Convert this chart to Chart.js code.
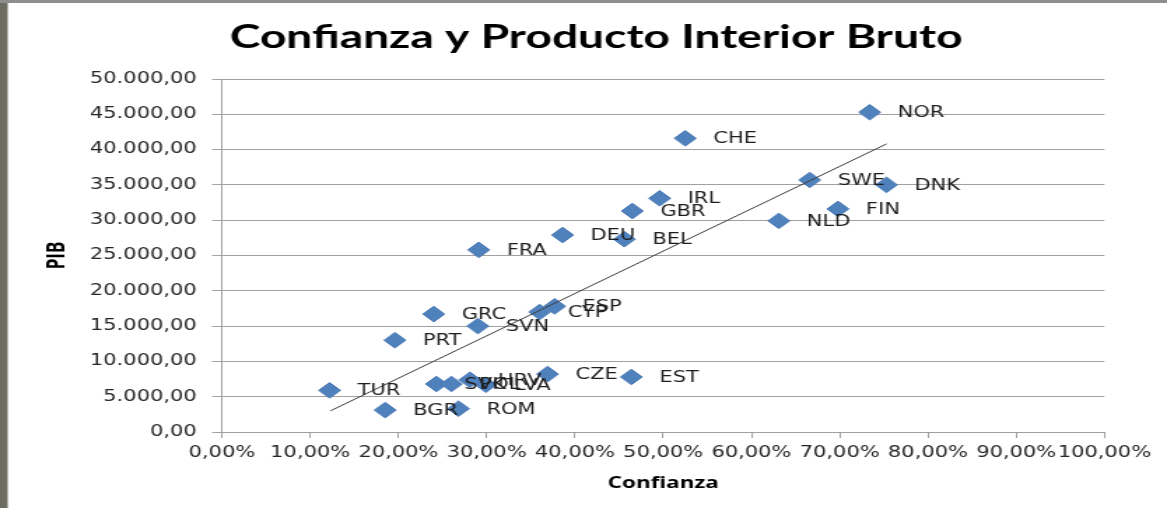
<!DOCTYPE html>
<html lang="es">
<head>
<meta charset="utf-8">
<title>Confianza y Producto Interior Bruto</title>
<script src="https://cdn.jsdelivr.net/npm/chart.js@4.4.1/dist/chart.umd.min.js"></script>
<style>
  html, body { margin: 0; padding: 0; background: #fff; overflow: hidden; }
  #pibChart { display: block; }
</style>
</head>
<body>
<!-- the original picture is stretched sideways, so the canvas is drawn narrow and widened by css -->
<canvas id="pibChart" width="834" height="508" style="width:1167px;height:508px"></canvas>
<script>
// country codes and their values (confianza as a fraction, PIB per capita)
const countries = ["NOR", "CHE", "SWE", "DNK", "FIN", "NLD", "IRL", "GBR", "DEU", "BEL",
  "FRA", "ESP", "CYP", "GRC", "SVN", "PRT", "CZE", "EST", "SVK", "POL", "HRV", "LVA",
  "TUR", "BGR", "ROM"];
const confianza = [0.734, 0.525, 0.666, 0.753, 0.698, 0.631, 0.496, 0.465, 0.386, 0.456,
  0.291, 0.377, 0.360, 0.240, 0.290, 0.196, 0.369, 0.464, 0.243, 0.260, 0.281, 0.299,
  0.122, 0.185, 0.268];
const pib = [45300, 41600, 35700, 35000, 31600, 29900, 33100, 31300, 27900, 27300,
  25800, 17800, 17000, 16700, 15000, 13000, 8200, 7800, 6800, 6800, 7400, 6700,
  5900, 3100, 3300];

// linear trend line, start and end
const trendConfianza = [0.123, 0.753];
const trendPib = [3000, 40800];

const xTickLabels = ["0,00%", "10,00%", "20,00%", "30,00%", "40,00%", "50,00%",
  "60,00%", "70,00%", "80,00%", "90,00%", "100,00%"];
const yTickLabels = ["0,00", "5.000,00", "10.000,00", "15.000,00", "20.000,00", "25.000,00",
  "30.000,00", "35.000,00", "40.000,00", "45.000,00", "50.000,00"];

const points = countries.map((c, i) => ({ x: confianza[i], y: pib[i] }));
const trendPoints = trendConfianza.map((x, i) => ({ x: x, y: trendPib[i] }));

const gridColor = "#a0a0a0";

// white page with the grey frame on the left and top edge
const pageFrame = {
  id: "pageFrame",
  beforeDraw(chart) {
    const ctx = chart.ctx;
    ctx.save();
    ctx.fillStyle = "#ffffff";
    ctx.fillRect(0, 0, chart.width, chart.height);
    ctx.fillStyle = "#6c6c60";
    ctx.fillRect(0, 0, 5.5, chart.height);
    ctx.fillStyle = "#8e8e8e";
    ctx.fillRect(0, 0, chart.width, 3);
    ctx.restore();
  },
};

// country code written to the right of each marker
const countryLabels = {
  id: "countryLabels",
  afterDatasetsDraw(chart) {
    const ctx = chart.ctx;
    const meta = chart.getDatasetMeta(0);
    ctx.save();
    ctx.font = '15px "DejaVu Sans"';
    ctx.fillStyle = "#1e1e1e";
    ctx.textAlign = "left";
    ctx.textBaseline = "middle";
    meta.data.forEach((pt, i) => {
      ctx.fillText(countries[i], pt.x + 20, pt.y + 1);
    });
    ctx.restore();
  },
};

const ctx = document.getElementById("pibChart").getContext("2d");
new Chart(ctx, {
  type: "scatter",
  data: {
    datasets: [
      {
        label: "PIB",
        data: points,
        pointStyle: "rectRot",
        pointRadius: 7.8,
        backgroundColor: "#4f81bd",
        borderColor: "#4a7ab5",
        borderWidth: 1,
        order: 2,
      },
      {
        label: "Lineal (PIB)",
        type: "line",
        data: trendPoints,
        borderColor: "#3c3c3c",
        borderWidth: 1,
        pointRadius: 0,
        fill: false,
        order: 1,
      },
    ],
  },
  options: {
    responsive: false,
    devicePixelRatio: 1,
    animation: false,
    events: [],
    layout: {
      padding: { left: 62.7, right: 44.7, top: 0, bottom: 0 },
    },
    plugins: {
      legend: { display: false },
      tooltip: { enabled: false },
      title: {
        display: true,
        text: "Confianza y Producto Interior Bruto",
        color: "#000000",
        font: { family: "Lato", weight: "bold", size: 33 },
        padding: { top: 18, bottom: 21.4 },
      },
    },
    scales: {
      x: {
        type: "linear",
        position: "bottom",
        min: 0,
        max: 1,
        afterFit: (scale) => {
          scale.height = 76;
        },
        ticks: {
          stepSize: 0.1,
          autoSkip: false,
          maxRotation: 0,
          minRotation: 0,
          padding: 6,
          color: "#262626",
          font: { family: "DejaVu Sans", size: 15 },
          callback: (value, index) => xTickLabels[index],
        },
        grid: {
          drawOnChartArea: false,
          tickLength: 6,
          color: gridColor,
        },
        border: { color: gridColor },
        title: {
          display: true,
          text: "Confianza",
          color: "#000000",
          font: { family: "Open Sans", weight: "bold", size: 16 },
          padding: { top: 0, bottom: 15 },
        },
      },
      y: {
        min: 0,
        max: 50000,
        afterFit: (scale) => {
          scale.width = 95.9;
        },
        ticks: {
          stepSize: 5000,
          padding: 11,
          color: "#262626",
          font: { family: "DejaVu Sans", size: 15 },
          callback: (value, index) => yTickLabels[index],
        },
        grid: {
          color: gridColor,
          tickLength: 7,
        },
        border: { color: gridColor },
        title: {
          display: true,
          text: "PIB",
          color: "#000000",
          font: { family: "Open Sans", weight: "bold", size: 17 },
          padding: { top: -31.5, bottom: 0 },
        },
      },
    },
  },
  plugins: [pageFrame, countryLabels],
});
</script>
</body>
</html>
